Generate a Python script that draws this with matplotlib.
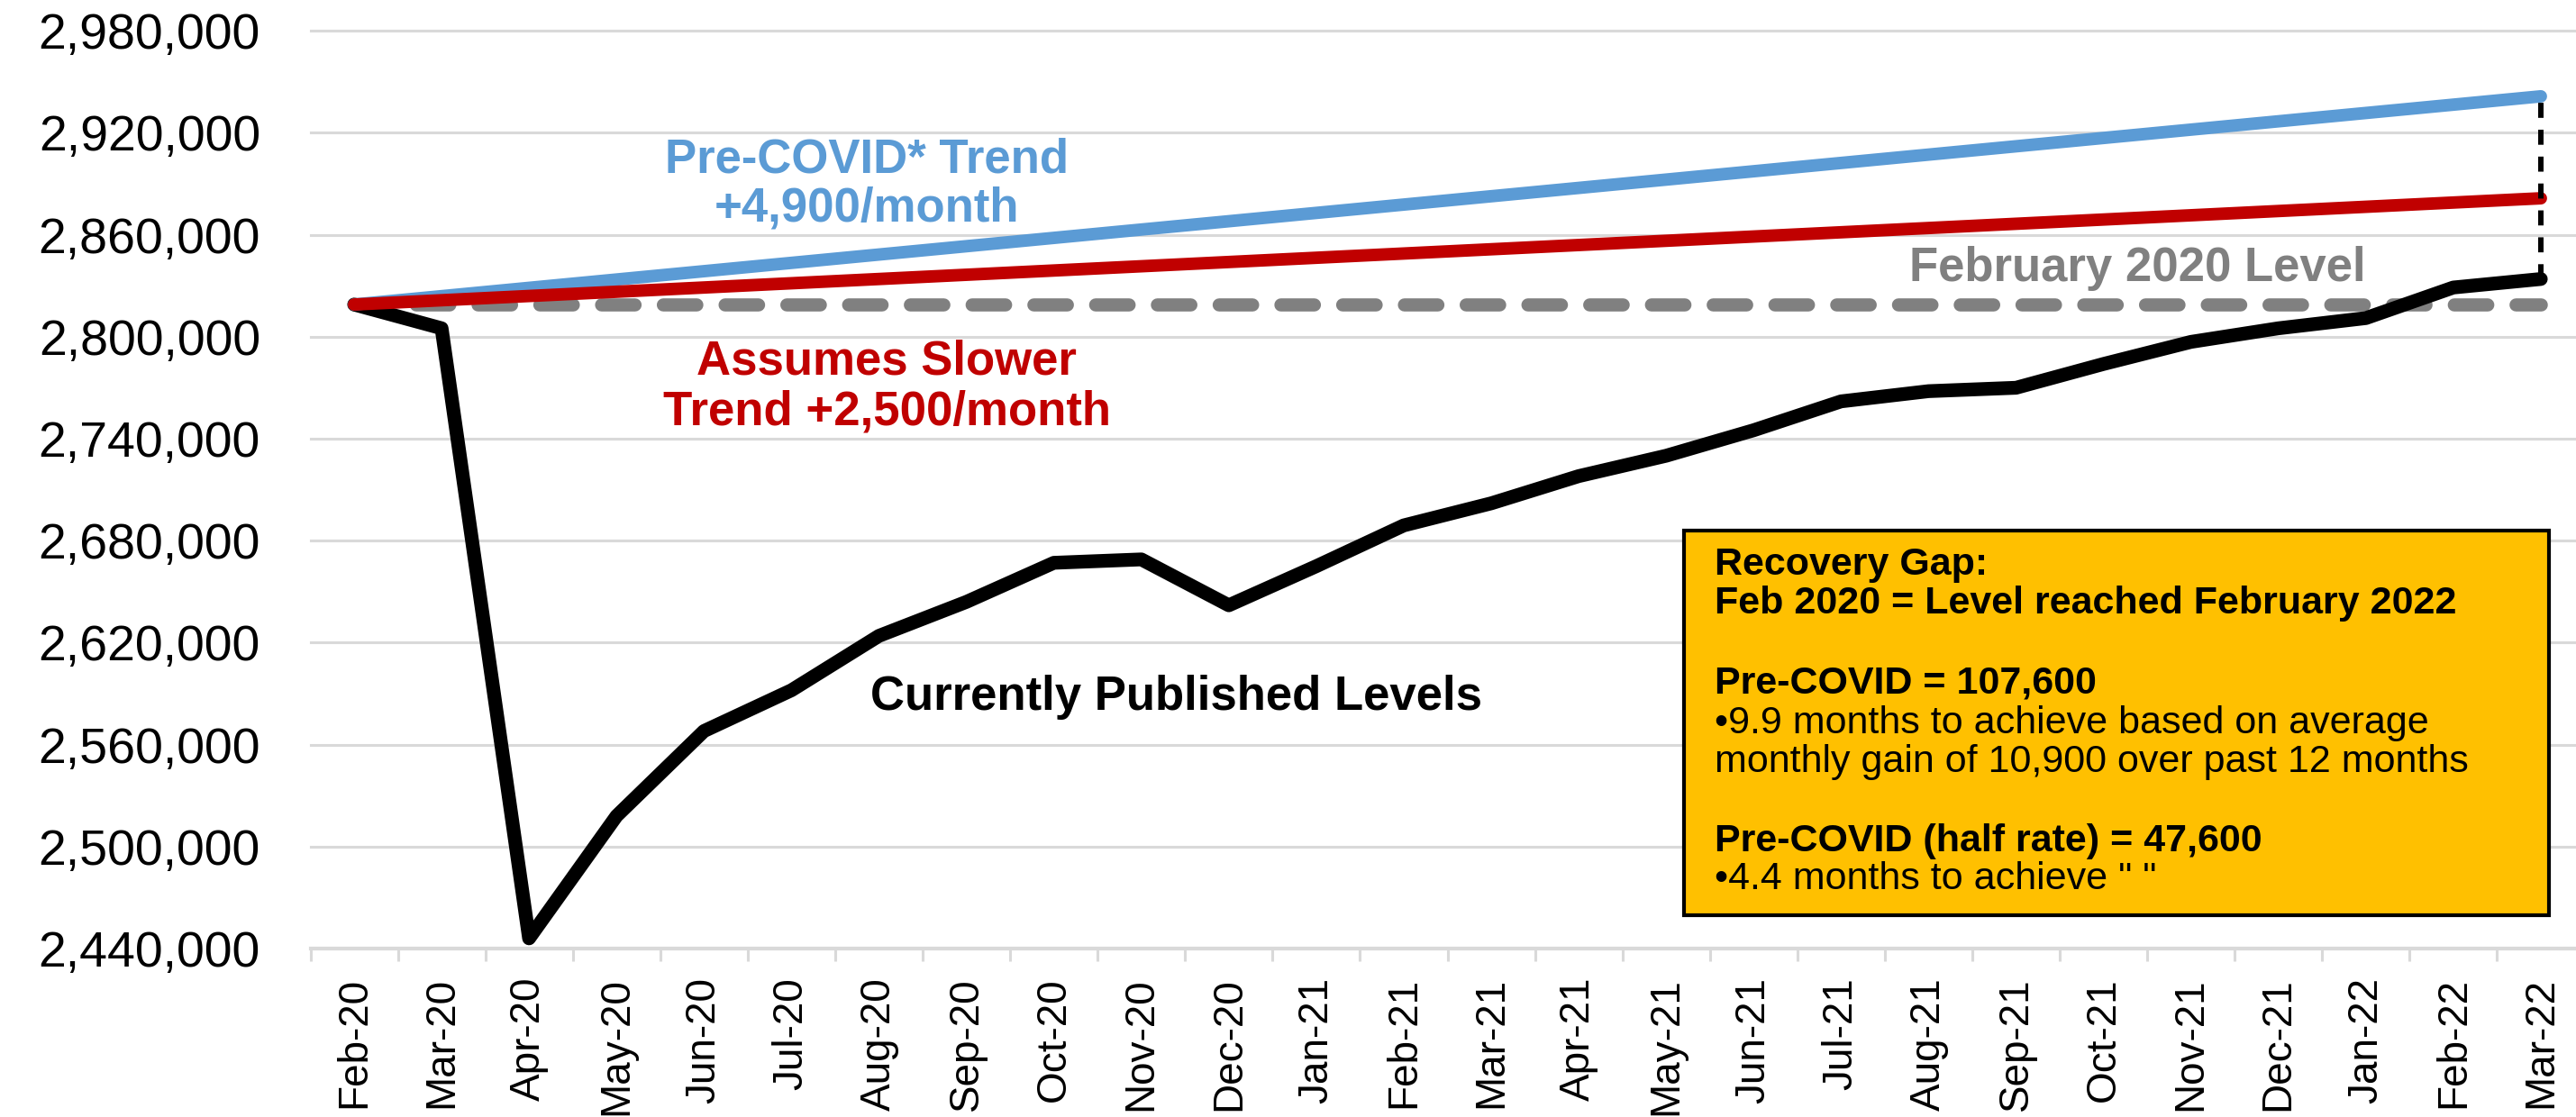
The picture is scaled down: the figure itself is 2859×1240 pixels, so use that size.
import matplotlib
matplotlib.use("Agg")
import matplotlib.pyplot as plt
from matplotlib.patches import Rectangle
from matplotlib.ticker import FixedLocator, FuncFormatter

plt.rcParams["font.family"] = ["Liberation Sans", "DejaVu Sans"]

# ---- data ----
months = ["Feb-20", "Mar-20", "Apr-20", "May-20", "Jun-20", "Jul-20", "Aug-20",
          "Sep-20", "Oct-20", "Nov-20", "Dec-20", "Jan-21", "Feb-21", "Mar-21",
          "Apr-21", "May-21", "Jun-21", "Jul-21", "Aug-21", "Sep-21", "Oct-21",
          "Nov-21", "Dec-21", "Jan-22", "Feb-22", "Mar-22"]
published = [2819000, 2805000, 2446000, 2518000, 2568000, 2592000, 2624000,
             2644000, 2667000, 2669000, 2642000, 2665000, 2689000, 2702000,
             2718000, 2730000, 2745000, 2762000, 2768000, 2770000, 2784000,
             2797000, 2805000, 2811000, 2829000, 2834000]
trend_months = ["Feb-20", "Mar-22"]
pre_covid_trend = [2819000, 2941500]   # +4,900/month
slower_trend = [2819000, 2881500]      # +2,500/month
feb2020_level = [2819000, 2819000]
gap_month = ["Mar-22", "Mar-22"]
gap_span = [2834000, 2941500]
y_ticks = list(range(2440000, 2980001, 60000))

W, H = 2859, 1240
GRID = "#D9D9D9"

fig = plt.figure(figsize=(W / 100, H / 100), dpi=100)
ax = fig.add_axes([344.5 / W, 1 - 1053 / H, 2524 / W, (1053 - 34.3) / H])

pos = {m: i for i, m in enumerate(months)}
xt = [pos[m] for m in trend_months]

ax.plot(xt, feb2020_level, color="#808080", lw=10.5, dashes=(2.55, 2.15),
        dash_capstyle="round", zorder=2)
ax.plot(range(len(months)), published, color="black", lw=11,
        solid_joinstyle="round", solid_capstyle="round", zorder=3)
ax.plot(xt, pre_covid_trend, color="#5B9BD5", lw=10, solid_capstyle="round", zorder=4)
ax.plot(xt, slower_trend, color="#C00000", lw=10, solid_capstyle="round", zorder=5)
ax.plot([pos[m] for m in gap_month], gap_span, color="black", lw=4.3,
        dashes=(2.8, 2.2), zorder=6)

ax.set_xlim(-0.5, len(months) - 0.5)
ax.set_ylim(y_ticks[0], y_ticks[-1])
ax.set_xticks(range(len(months)))
ax.set_xticklabels(months, rotation=90, fontsize=33)
ax.xaxis.set_minor_locator(FixedLocator([i - 0.5 for i in range(len(months) + 1)]))
ax.tick_params(axis="x", which="major", length=0, pad=23)
ax.tick_params(axis="x", which="minor", length=10, width=2.2, color=GRID)
ax.set_yticks(y_ticks)
ax.yaxis.set_major_formatter(FuncFormatter(lambda v, p: f"{v:,.0f}"))
ax.tick_params(axis="y", length=0, pad=40, labelsize=40)
ax.grid(axis="y", color=GRID, lw=2.2, zorder=0)
for gl in ax.get_ygridlines():
    gl.set_clip_on(False)
ax.set_axisbelow(True)
for s in ("top", "right", "left"):
    ax.spines[s].set_visible(False)
ax.spines["bottom"].set_color(GRID)
ax.spines["bottom"].set_linewidth(3)


def ftext(x, y, s, **kw):
    fig.text(x / W, 1 - y / H, s, va="baseline", **kw)


bold = dict(fontweight="bold", ha="center", fontsize=38)
ftext(962, 191, "Pre-COVID* Trend", color="#5B9BD5", **bold)
ftext(962, 246, "+4,900/month", color="#5B9BD5", **bold)
ftext(984, 416, "Assumes Slower", color="#C00000", **bold)
ftext(984, 471, "Trend +2,500/month", color="#C00000", **bold)
ftext(2372, 312, "February 2020 Level", color="#808080", **bold)
ftext(1306, 788, "Currently Published Levels", color="black", **bold)

# recovery gap note
fig.add_artist(Rectangle((1869 / W, 1 - 1016 / H), 960 / W, 427 / H,
                         transform=fig.transFigure, facecolor="#FFC000",
                         edgecolor="black", lw=3, zorder=10))
notes = [(638, "Recovery Gap:", "bold"),
         (681, "Feb 2020 = Level reached February 2022", "bold"),
         (769, "Pre-COVID = 107,600", "bold"),
         (814, "\u20229.9 months to achieve based on average", "normal"),
         (857, "monthly gain of 10,900 over past 12 months", "normal"),
         (945, "Pre-COVID (half rate) = 47,600", "bold"),
         (987, "\u20224.4 months to achieve \" \"", "normal")]
for y, s, w in notes:
    ftext(1903, y, s, fontsize=31, fontweight=w, ha="left", zorder=11)

fig.savefig("out.png", dpi=100)
